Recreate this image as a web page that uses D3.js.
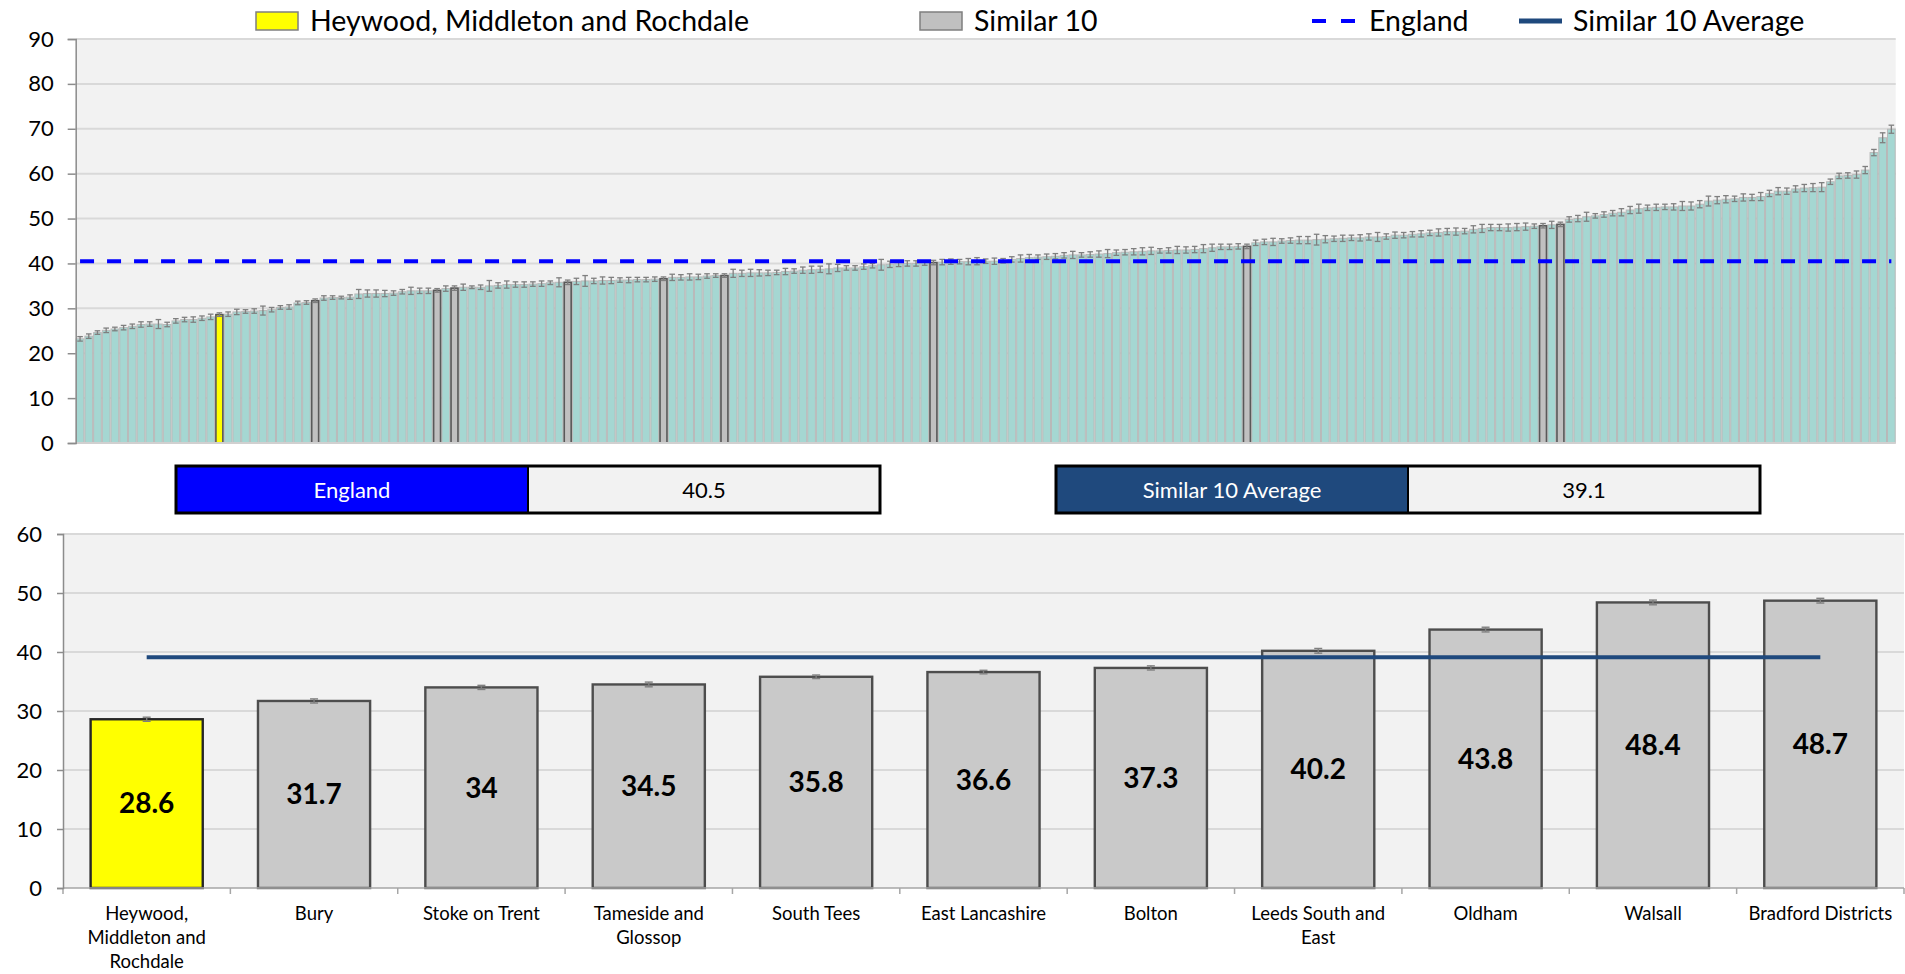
<!DOCTYPE html>
<html><head><meta charset="utf-8">
<script src="https://cdn.jsdelivr.net/npm/d3@7"></script>
<style>
body{margin:0;background:#fff;}
svg{display:block;font-family:Lato,'Open Sans',sans-serif;}
</style>
</head><body>
<svg id="c" width="1905" height="974"></svg>
<script>
// ---------- DATA ----------
const legendLabels = ["Heywood, Middleton and Rochdale", "Similar 10", "England", "Similar 10 Average"];

// all areas, sorted ascending (top chart)
const topValues = [
 23.2,23.8,24.6,25.1,25.4,25.7,26.0,26.4,26.5,26.5, 26.4,27.2,27.5,27.5,27.8,28.1,28.6,28.7,29.2,29.3,
 29.4,29.5,29.7,30.2,30.3,31.2,31.3,31.7,32.3,32.4, 32.4,32.5,33.2,33.3,33.3,33.3,33.4,33.7,33.9,33.9,
 33.9,34.0,34.4,34.5,34.7,34.7,34.7,35.0,35.1,35.3, 35.3,35.3,35.4,35.5,35.7,35.8,35.8,36.0,36.1,36.1,
 36.2,36.2,36.3,36.3,36.4,36.4,36.5,36.6,36.9,36.9, 37.0,37.0,37.2,37.3,37.3,37.8,37.8,37.9,37.9,37.9,
 38.0,38.2,38.3,38.5,38.6,38.7,38.8,39.0,39.0,39.0, 39.3,39.5,39.7,39.8,39.9,40.0,40.0,40.1,40.2,40.3,
 40.4,40.4,40.4,40.5,40.5,40.5,40.6,40.9,41.1,41.3, 41.4,41.5,41.6,41.8,41.9,41.9,42.0,42.1,42.2,42.4,
 42.5,42.6,42.7,42.8,42.8,42.9,43.0,43.0,43.1,43.3, 43.5,43.7,43.7,43.8,43.8,44.6,44.8,44.8,45.0,45.1,
 45.2,45.2,45.3,45.4,45.5,45.6,45.7,45.7,45.9,45.9, 46.0,46.3,46.3,46.5,46.6,46.8,46.9,47.1,47.1,47.2,
 47.6,47.8,48.0,48.0,48.0,48.1,48.2,48.3,48.4,48.6, 48.7,49.8,50.0,50.4,50.6,50.9,51.2,51.4,51.9,52.2,
 52.4,52.5,52.6,52.6,52.8,52.8,53.2,53.9,54.1,54.3, 54.4,54.7,54.7,54.9,55.6,56.1,56.1,56.6,56.8,56.9,
 57.0,58.2,59.5,59.6,59.8,60.8,64.7,68.0,69.9
];
// confidence interval half-widths (top chart)
const topErr = [
 0.5,0.5,0.4,0.5,0.4,0.5,0.5,0.6,0.5,1.0, 0.5,0.5,0.5,0.6,0.5,0.6,0.4,0.5,0.6,0.4,
 0.5,1.0,0.5,0.4,0.5,0.4,0.4,0.4,0.5,0.4, 0.3,0.5,1.0,0.8,0.8,0.7,0.5,0.5,0.8,0.6,
 0.6,0.4,0.6,0.5,0.7,0.3,0.5,1.2,0.6,0.8, 0.6,0.6,0.5,0.6,0.4,1.0,0.5,0.7,1.2,0.6,
 0.8,0.7,0.5,0.6,0.5,0.5,0.5,0.4,0.7,0.6, 0.7,0.6,0.5,0.4,0.4,0.9,0.7,0.8,0.7,0.6,
 0.5,0.7,0.5,0.7,0.8,0.7,1.1,0.8,0.5,0.5, 0.6,0.5,1.2,0.7,0.6,0.6,0.6,0.5,0.5,0.6,
 0.6,0.5,0.7,0.8,0.5,0.7,0.5,0.6,0.8,0.7, 0.5,0.6,0.6,0.6,0.8,0.5,0.6,0.7,0.9,0.6,
 0.6,0.7,0.8,0.8,0.5,0.6,0.8,0.7,0.7,0.9, 0.8,0.6,0.6,0.6,0.5,0.6,0.6,0.8,0.5,0.6,
 0.8,0.8,1.2,0.8,0.6,0.7,0.6,0.7,0.7,1.0, 0.6,0.7,0.6,0.6,0.7,0.6,0.8,0.7,0.8,0.6,
 0.8,0.9,0.7,0.7,0.8,0.8,0.8,0.5,0.5,0.8, 0.5,0.6,0.7,1.0,0.5,0.6,0.6,0.8,0.8,1.0,
 0.6,0.7,0.6,0.7,1.0,0.9,0.8,1.1,0.8,0.8, 0.6,0.8,0.7,0.9,0.7,0.8,0.7,0.7,0.8,0.9,
 1.0,0.6,0.6,0.6,0.8,0.8,0.7,1.1,0.9
];
// rank positions (in topValues) of the selected area and its 10 similar areas
const peerRank = [16, 27, 41, 43, 56, 67, 74, 98, 134, 168, 170];

const categories = ["Heywood, Middleton and Rochdale", "Bury", "Stoke on Trent", "Tameside and Glossop",
  "South Tees", "East Lancashire", "Bolton", "Leeds South and East", "Oldham", "Walsall", "Bradford Districts"];
const peerValues = [28.6, 31.7, 34, 34.5, 35.8, 36.6, 37.3, 40.2, 43.8, 48.4, 48.7];
const peerErr = [0.35, 0.35, 0.35, 0.4, 0.3, 0.3, 0.35, 0.4, 0.4, 0.4, 0.4];

const englandValue = 40.5;
const peerAverage = 39.1;
const topTicks = [0, 10, 20, 30, 40, 50, 60, 70, 80, 90];
const bottomTicks = [0, 10, 20, 30, 40, 50, 60];

// ---------- STYLE ----------
const C = {
  plotBg: "#f2f2f2", grid: "#d9d9d9", axis: "#8c8c8c",
  teal: "#a5d7d2", tealStroke: "#b9b9b9",
  peer: "#c0c0c0", peerBottom: "#c9c9c9", peerStroke: "#595959",
  focus: "#ffff00", england: "#0000ff", avg: "#1f497d", err: "#7f7f7f"
};

const svg = d3.select("#c");

// ---------- LEGEND ----------
const lg = svg.append("g").attr("font-size", 28.5).attr("fill", "#000");
lg.append("rect").attr("x", 256).attr("y", 12).attr("width", 42).attr("height", 18)
  .attr("fill", C.focus).attr("stroke", "#7f7f7f").attr("stroke-width", 1.5);
lg.append("text").attr("x", 310).attr("y", 21).attr("dy", "0.35em").text(legendLabels[0]);
lg.append("rect").attr("x", 920).attr("y", 12).attr("width", 42).attr("height", 18)
  .attr("fill", C.peer).attr("stroke", "#7f7f7f").attr("stroke-width", 1.5);
lg.append("text").attr("x", 974).attr("y", 21).attr("dy", "0.35em").text(legendLabels[1]);
lg.append("line").attr("x1", 1312).attr("x2", 1356).attr("y1", 21).attr("y2", 21)
  .attr("stroke", C.england).attr("stroke-width", 4).attr("stroke-dasharray", "14,15");
lg.append("text").attr("x", 1369).attr("y", 21).attr("dy", "0.35em").text(legendLabels[2]);
lg.append("line").attr("x1", 1519).attr("x2", 1562).attr("y1", 21).attr("y2", 21)
  .attr("stroke", C.avg).attr("stroke-width", 5);
lg.append("text").attr("x", 1573).attr("y", 21).attr("dy", "0.35em").text(legendLabels[3]);

// ---------- TOP CHART ----------
const T = {l: 75.7, r: 1895.7, t: 39, b: 443};
const xT = d3.scaleBand().domain(d3.range(topValues.length)).range([T.l, T.r]).padding(0);
const yT = d3.scaleLinear().domain([0, 90]).range([T.b, T.t]);
const bwT = xT.bandwidth();

const topG = svg.append("g");
topG.append("rect").attr("x", T.l).attr("y", T.t).attr("width", T.r - T.l).attr("height", T.b - T.t)
  .attr("fill", C.plotBg);
topG.selectAll("line.grid").data(topTicks.filter(d => d > 0)).join("line")
  .attr("x1", T.l).attr("x2", T.r).attr("y1", d => yT(d)).attr("y2", d => yT(d))
  .attr("stroke", C.grid).attr("stroke-width", 2);

topG.selectAll("rect.bar").data(topValues).join("rect").attr("class", "bar")
  .attr("x", (d, i) => xT(i) + 0.5).attr("width", bwT - 1)
  .attr("y", d => yT(d)).attr("height", d => yT(0) - yT(d))
  .attr("fill", C.teal).attr("stroke", C.tealStroke).attr("stroke-width", 1);

topG.selectAll("rect.peer").data(peerRank).join("rect").attr("class", "peer")
  .attr("x", d => xT(d) + 0.9).attr("width", bwT - 1.8)
  .attr("y", d => yT(topValues[d])).attr("height", d => yT(0) - yT(topValues[d]))
  .attr("fill", (d, i) => i === 0 ? C.focus : C.peer)
  .attr("stroke", C.peerStroke).attr("stroke-width", 1.6);

const eT = topG.append("g").attr("stroke", C.err).attr("stroke-width", 1.3);
topValues.forEach((v, i) => {
  const cx = xT(i) + bwT / 2, y1 = yT(v - topErr[i]), y2 = yT(v + topErr[i]);
  eT.append("line").attr("x1", cx).attr("x2", cx).attr("y1", y1).attr("y2", y2);
  eT.append("line").attr("x1", cx - 2.8).attr("x2", cx + 2.8).attr("y1", y1).attr("y2", y1);
  eT.append("line").attr("x1", cx - 2.8).attr("x2", cx + 2.8).attr("y1", y2).attr("y2", y2);
});

topG.append("line")
  .attr("x1", xT(0) + bwT / 2).attr("x2", xT(topValues.length - 1) + bwT / 2)
  .attr("y1", yT(englandValue)).attr("y2", yT(englandValue))
  .attr("stroke", C.england).attr("stroke-width", 4).attr("stroke-dasharray", "14,13");

topG.append("line").attr("x1", T.l).attr("x2", T.r).attr("y1", T.b).attr("y2", T.b)
  .attr("stroke", "#d0d0d0").attr("stroke-width", 2);
const axT = topG.append("g").attr("transform", `translate(${T.l},0)`)
  .call(d3.axisLeft(yT).tickValues(topTicks).tickSize(8).tickPadding(14));
axT.select(".domain").attr("stroke", C.axis).attr("stroke-width", 1.5);
axT.selectAll(".tick line").attr("stroke", C.axis).attr("stroke-width", 1.5);
axT.selectAll(".tick text").attr("font-size", 22).attr("fill", "#000").attr("font-family", "Lato");

// ---------- VALUE BOXES ----------
function valueBox(x, label, value, color) {
  const g = svg.append("g");
  g.append("rect").attr("x", x).attr("y", 466).attr("width", 352).attr("height", 47).attr("fill", color);
  g.append("rect").attr("x", x + 352).attr("y", 466).attr("width", 352).attr("height", 47).attr("fill", "#f2f2f2");
  g.append("rect").attr("x", x).attr("y", 466).attr("width", 704).attr("height", 47)
    .attr("fill", "none").attr("stroke", "#000").attr("stroke-width", 3);
  g.append("line").attr("x1", x + 352).attr("x2", x + 352).attr("y1", 466).attr("y2", 513)
    .attr("stroke", "#000").attr("stroke-width", 2);
  g.append("text").attr("x", x + 176).attr("y", 490).attr("dy", "0.35em").attr("text-anchor", "middle")
    .attr("font-size", 22).attr("fill", "#fff").text(label);
  g.append("text").attr("x", x + 528).attr("y", 490).attr("dy", "0.35em").attr("text-anchor", "middle")
    .attr("font-size", 22).attr("fill", "#000").text(value);
}
valueBox(176, legendLabels[2], englandValue, C.england);
valueBox(1056, legendLabels[3], peerAverage, C.avg);

// ---------- BOTTOM CHART ----------
const B = {l: 63, r: 1904, t: 534, b: 888};
const xB = d3.scaleBand().domain(categories).range([B.l, B.r]).paddingInner(0.33).paddingOuter(0.165);
const yB = d3.scaleLinear().domain([0, 60]).range([B.b, B.t]);
const bwB = xB.bandwidth(), stepB = xB.step();

const bot = svg.append("g");
bot.append("rect").attr("x", B.l).attr("y", B.t).attr("width", B.r - B.l).attr("height", B.b - B.t)
  .attr("fill", C.plotBg);
bot.selectAll("line.grid").data(bottomTicks.filter(d => d > 0)).join("line")
  .attr("x1", B.l).attr("x2", B.r).attr("y1", d => yB(d)).attr("y2", d => yB(d))
  .attr("stroke", C.grid).attr("stroke-width", 2);

bot.selectAll("rect.bar").data(peerValues).join("rect").attr("class", "bar")
  .attr("x", (d, i) => xB(categories[i])).attr("width", bwB)
  .attr("y", d => yB(d)).attr("height", d => yB(0) - yB(d))
  .attr("fill", (d, i) => i === 0 ? C.focus : C.peerBottom)
  .attr("stroke", (d, i) => i === 0 ? "#262626" : "#4d4d4d").attr("stroke-width", 2.4);

const eB = bot.append("g").attr("stroke", C.err).attr("stroke-width", 1.4);
peerValues.forEach((v, i) => {
  const cx = xB(categories[i]) + bwB / 2, y1 = yB(v - peerErr[i]), y2 = yB(v + peerErr[i]);
  eB.append("line").attr("x1", cx).attr("x2", cx).attr("y1", y1).attr("y2", y2);
  eB.append("line").attr("x1", cx - 4).attr("x2", cx + 4).attr("y1", y1).attr("y2", y1);
  eB.append("line").attr("x1", cx - 4).attr("x2", cx + 4).attr("y1", y2).attr("y2", y2);
});

bot.append("line")
  .attr("x1", xB(categories[0]) + bwB / 2).attr("x2", xB(categories[categories.length - 1]) + bwB / 2)
  .attr("y1", yB(peerAverage)).attr("y2", yB(peerAverage))
  .attr("stroke", C.avg).attr("stroke-width", 4);

bot.selectAll("text.val").data(peerValues).join("text").attr("class", "val")
  .attr("x", (d, i) => xB(categories[i]) + bwB / 2)
  .attr("y", d => (yB(d) + yB(0)) / 2).attr("dy", "0.35em")
  .attr("text-anchor", "middle").attr("font-size", 28).attr("font-weight", "bold").attr("fill", "#000")
  .text(d => d);

// x axis line and ticks between categories
bot.append("line").attr("x1", B.l).attr("x2", B.r).attr("y1", B.b).attr("y2", B.b)
  .attr("stroke", "#a6a6a6").attr("stroke-width", 1.5);
bot.selectAll("line.xt").data(d3.range(categories.length + 1)).join("line")
  .attr("x1", i => B.l + i * stepB).attr("x2", i => B.l + i * stepB)
  .attr("y1", B.b).attr("y2", B.b + 6).attr("stroke", "#a6a6a6").attr("stroke-width", 1.5);

const axB = bot.append("g").attr("transform", `translate(${B.l},0)`)
  .call(d3.axisLeft(yB).tickValues(bottomTicks).tickSize(6).tickPadding(15));
axB.select(".domain").attr("stroke", C.axis).attr("stroke-width", 1.5);
axB.selectAll(".tick line").attr("stroke", C.axis).attr("stroke-width", 1.5);
axB.selectAll(".tick text").attr("font-size", 22).attr("fill", "#000").attr("font-family", "Lato");

// category labels with wrapping
const maxW = 152;
categories.forEach((name, i) => {
  const cx = xB(name) + bwB / 2;
  const t = bot.append("text").attr("text-anchor", "middle").attr("font-size", 18.5).attr("fill", "#000");
  const words = name.split(" ");
  let lines = [], cur = "";
  const probe = bot.append("text").attr("font-size", 18.5);
  words.forEach(w => {
    const test = cur ? cur + " " + w : w;
    probe.text(test);
    if (probe.node().getComputedTextLength() > maxW && cur) { lines.push(cur); cur = w; }
    else cur = test;
  });
  lines.push(cur);
  probe.remove();
  lines.forEach((ln, k) => {
    t.append("tspan").attr("x", cx).attr("y", 920 + k * 24).text(ln);
  });
});
</script>
</body></html>
